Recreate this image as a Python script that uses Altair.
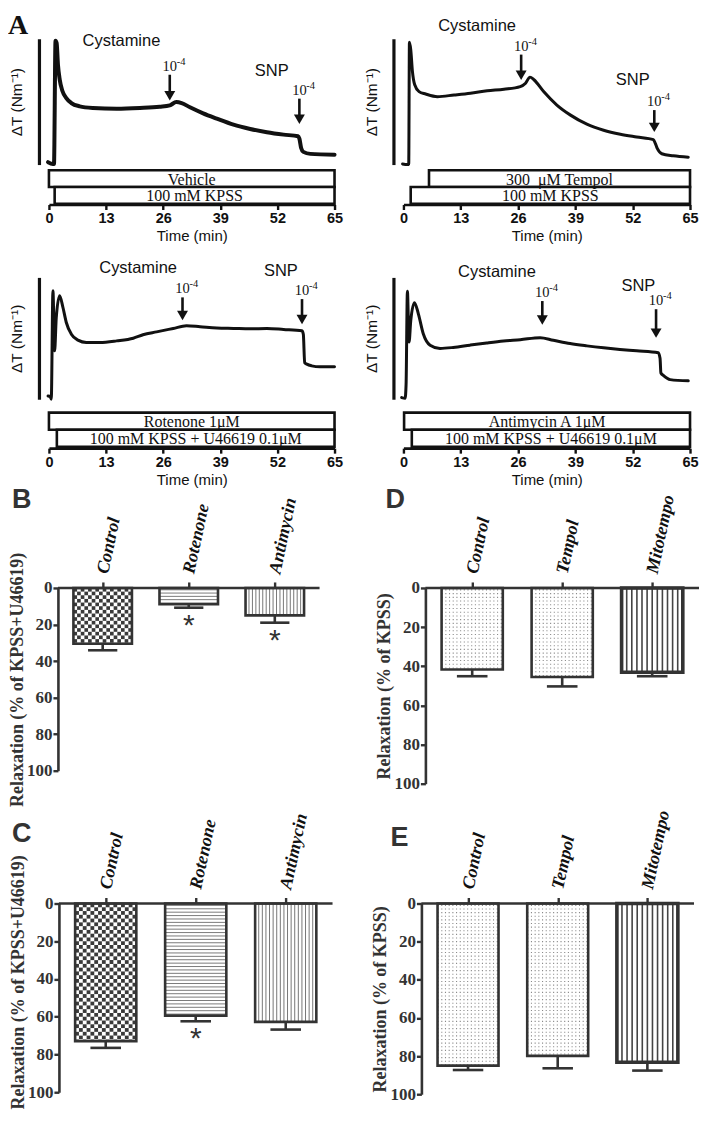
import altair as alt
import numpy as np
import pandas as pd

SANS = "Liberation Sans"
SERIF = "Liberation Serif"
INK = "#111111"
GREY = "#333333"

# ---------------- Panel A : tension traces ----------------
TIME_TICKS = [0, 13, 26, 39, 52, 65]

A1_T = [-0.2, 0.9, 1.15, 1.5, 1.75, 2.05, 2.45, 3.05, 3.95, 5.1, 7.0, 10.0, 15.4, 20.7, 25.2, 27.5, 29.0,
        30.2, 32.1, 35.1, 38.2, 42.0, 45.8, 49.6, 53.4, 56.7, 57.0, 57.4, 57.9, 59.5, 65.0]
A1_V = [1.9, 0.5, 0.5, 98.4, 96.6, 79.4, 67.5, 58.7, 52.9, 48.9, 46.3, 45.0, 44.4, 45.0, 46.0, 47.1, 49.7,
        48.9, 45.5, 40.7, 36.5, 31.7, 28.3, 25.7, 23.8, 22.5, 20.6, 13.2, 10.1, 8.5, 7.9]
A1_ARROW_T = [27.5, 57.0]
A1_ARROW_TOP = [71.4, 52.4]
A1_ARROW_TIP = [51.0, 32.3]
A1_WORDS = ["Cystamine", "SNP"]
A1_WORD_T = [16.5, 50.7]
A1_WORD_V = [97.9, 74.0]
A1_BOX_LABELS = ["Vehicle", "100 mM KPSS"]
A1_BOX_START = [0.0, 1.3]
A1_BOX_END = [65.0, 65.0]

A2_T = [-0.2, 0.9, 1.2, 1.36, 1.66, 2.04, 2.56, 3.54, 5.05, 7.7, 11.5, 15.2, 19.0, 22.8, 26.5, 27.7, 28.7,
        29.6, 31.8, 34.8, 37.9, 41.6, 45.4, 49.2, 52.9, 56.7, 57.1, 57.6, 58.6, 61.2, 64.6]
A2_V = [0.5, 0.0, 0.0, 97.3, 91.4, 74.1, 63.4, 58.0, 56.1, 54.0, 55.3, 56.7, 58.6, 59.9, 62.0, 64.7, 69.5,
        67.4, 58.0, 47.3, 39.3, 32.1, 27.3, 24.1, 21.9, 19.8, 17.1, 12.6, 8.6, 7.0, 5.9]
A2_ARROW_T = [26.7, 56.9]
A2_ARROW_TOP = [87.4, 43.3]
A2_ARROW_TIP = [67.4, 25.9]
A2_WORDS = ["Cystamine", "SNP"]
A2_WORD_T = [16.7, 52.0]
A2_WORD_V = [110.0, 67.4]
A2_BOX_LABELS = ["300\u00a0 \u03bcM Tempol", "100 mM KPSS"]
A2_BOX_START = [5.8, 1.65]
A2_BOX_END = [65.0, 65.0]

A3_T = [-0.2, 0.3, 0.53, 0.91, 1.29, 1.67, 2.43, 3.19, 3.95, 5.1, 6.6, 8.5, 11.6, 15.4, 19.2, 21.4, 24.5,
        28.3, 31.3, 34.4, 38.2, 42.0, 45.8, 49.6, 53.4, 57.6, 57.9, 58.2, 58.7, 59.8, 61.7, 65.0]
A3_V = [2.7, 2.2, 0.0, 89.0, 39.7, 67.1, 84.9, 75.3, 63.0, 53.4, 48.5, 46.6, 46.6, 47.9, 50.1, 52.9, 55.3,
        58.1, 60.3, 59.5, 58.4, 58.1, 57.8, 58.1, 57.3, 56.2, 53.4, 30.1, 28.8, 27.4, 26.6, 26.6]
A3_ARROW_T = [30.4, 57.6]
A3_ARROW_TOP = [83.6, 82.2]
A3_ARROW_TIP = [64.9, 61.6]
A3_WORDS = ["Cystamine", "SNP"]
A3_WORD_T = [20.3, 52.8]
A3_WORD_V = [108.0, 105.5]
A3_BOX_LABELS = ["Rotenone 1\u03bcM", "100 mM KPSS + U46619 0.1\u03bcM"]
A3_BOX_START = [0.0, 1.8]
A3_BOX_END = [65.0, 65.0]

A4_T = [-0.4, 0.38, 0.6, 0.9, 1.28, 1.66, 2.5, 3.4, 4.5, 6.05, 8.3, 11.3, 15.1, 18.9, 22.7, 26.5, 31.0,
        34.0, 37.8, 41.6, 45.4, 49.1, 52.9, 57.8, 58.2, 58.4, 59.0, 60.5, 64.6]
A4_V = [1.3, 0.8, 12.0, 88.7, 47.0, 64.5, 79.3, 69.9, 53.8, 44.4, 41.7, 42.5, 44.4, 46.2, 47.8, 48.9, 50.5,
        48.4, 45.7, 43.8, 42.2, 40.9, 39.8, 38.2, 33.6, 21.5, 19.4, 16.1, 15.1]
A4_ARROW_T = [31.5, 57.3]
A4_ARROW_TOP = [80.6, 73.9]
A4_ARROW_TIP = [61.3, 50.5]
A4_WORDS = ["Cystamine", "SNP"]
A4_WORD_T = [21.2, 53.3]
A4_WORD_V = [104.8, 92.7]
A4_BOX_LABELS = ["Antimycin A 1\u03bcM", "100 mM KPSS + U46619 0.1\u03bcM"]
A4_BOX_START = [0.15, 1.9]
A4_BOX_END = [65.0, 65.0]

# ---------------- Panels B-E : relaxation bars ----------------
BC_CATS = ["Control", "Rotenone", "Antimycin"]
B_MEAN = [30.5, 8.9, 15.0]
B_SEM = [3.6, 1.9, 4.0]
B_SIG = [False, True, True]
C_MEAN = [73.0, 59.4, 62.7]
C_SEM = [3.5, 3.0, 4.1]
C_SIG = [False, True, False]

DE_CATS = ["Control", "Tempol", "Mitotempo"]
D_MEAN = [41.7, 45.5, 43.1]
D_SEM = [3.4, 4.8, 2.0]
D_SIG = [False, False, False]
E_MEAN = [85.0, 79.9, 83.2]
E_SEM = [2.3, 6.5, 4.4]
E_SIG = [False, False, False]

Y_TICKS = [0, 20, 40, 60, 80, 100]

XS = alt.Scale(domain=[0, 65], nice=False, zero=False)
VS = alt.Scale(domain=[0, 100], nice=False, zero=False)


def trace_chart(t, v, at, atop, atip, words, wt, wv, width, height, lw, letter=None):
    yaxis = alt.Axis(title="\u0394T (Nm\u207b\u00b9)", labels=False, ticks=False, grid=False,
                     domain=True, domainColor=INK, domainWidth=3.2, offset=10, titleFont=SANS,
                     titleFontSize=15.5, titleFontWeight="normal", titleColor=INK, titlePadding=14)

    def X(f):
        return alt.X(f, scale=XS, axis=None)

    def Y(f):
        return alt.Y(f, scale=VS, axis=yaxis)

    tr = pd.DataFrame({"t": t, "v": v})
    line = alt.Chart(tr).mark_line(color=INK, strokeWidth=lw, interpolate="monotone",
                                   strokeJoin="round", strokeCap="round").encode(
        x=X("t:Q"), y=Y("v:Q"))
    ar = pd.DataFrame({"t": at, "top": atop, "tip": atip})
    shaft = alt.Chart(ar).mark_rule(color=INK, strokeWidth=2.6, y2Offset=-5).encode(
        x=X("t:Q"), y=Y("top:Q"), y2="tip:Q")
    head = alt.Chart(ar).mark_point(shape="triangle-down", filled=True, color=INK, opacity=1,
                                    size=120, yOffset=-4.6).encode(x=X("t:Q"), y=Y("tip:Q"))
    ten = alt.Chart(ar).mark_text(text="10", font=SERIF, fontSize=14.5, color=INK, align="center",
                                  baseline="alphabetic", dy=-4).encode(x=X("t:Q"), y=Y("top:Q"))
    sup = alt.Chart(ar).mark_text(text="-4", font=SERIF, fontSize=10.5, color=INK, align="left",
                                  baseline="alphabetic", dx=7, dy=-10).encode(x=X("t:Q"), y=Y("top:Q"))
    wd = pd.DataFrame({"w": words, "t": wt, "v": wv})
    wtxt = alt.Chart(wd).mark_text(font=SANS, fontSize=16.5, color=INK, align="center",
                                   baseline="middle").encode(x=X("t:Q"), y=Y("v:Q"), text="w:N")
    layers = [line, shaft, head, ten, sup, wtxt]
    if letter:
        lt = alt.Chart(pd.DataFrame({"l": [letter]})).mark_text(
            font=SERIF, fontSize=28, fontWeight="bold", color=INK, align="left",
            baseline="alphabetic").encode(text="l:N", x=alt.value(-41), y=alt.value(-4.5))
        layers.append(lt)
    return alt.layer(*layers).properties(width=width, height=height)


def box_chart(labels, start, end, width, height, fs, pad_outer):
    df = pd.DataFrame({"label": labels, "start": start, "end": end})
    df["row"] = np.arange(len(df))
    df["mid"] = (df["start"] + df["end"]) / 2
    ys = alt.Scale(type="band", paddingInner=0, paddingOuter=pad_outer)
    taxis = alt.Axis(values=TIME_TICKS, title="Time (min)", grid=False, domainColor=INK,
                     domainWidth=2.6, tickColor=INK, tickWidth=2.4, tickSize=5, labelPadding=2,
                     labelFont=SANS, labelFontSize=14.5, labelFontWeight="bold", labelColor=INK,
                     labelFlush=False, labelOverlap=False, titleFont=SANS, titleFontSize=15,
                     titleFontWeight="normal", titleColor=INK, titlePadding=4)
    rect = alt.Chart(df).mark_rect(fill="white", stroke=INK, strokeWidth=2.6).encode(
        x=alt.X("start:Q", scale=XS, axis=taxis), x2="end:Q",
        y=alt.Y("row:O", scale=ys, axis=None))
    txt = alt.Chart(df).mark_text(font=SERIF, fontSize=fs, color=INK, baseline="middle", dy=1).encode(
        x=alt.X("mid:Q", scale=XS, axis=taxis), y=alt.Y("row:O", scale=ys, axis=None), text="label:N")
    return alt.layer(rect, txt).properties(width=width, height=height)


HW = 0.34
CAP = 0.17
LO, HI = -0.52, 2.52


def bar_chart(cats, mean, sem, sig, kinds, outline_w, width, shift, height, ytitle, title_fs,
              title_lift, letter, lx, ly):
    """shift = pixels between the cell's left edge and the drawn y axis."""
    n = len(cats)
    df = pd.DataFrame({"i": np.arange(n, dtype=float), "m": mean, "s": sem, "sig": sig,
                       "sw": outline_w})
    df["e"] = df["m"] + df["s"]
    df["l"] = df["i"] - HW
    df["r"] = df["i"] + HW
    df["cl"] = df["i"] - CAP
    df["cr"] = df["i"] + CAP
    df["z"] = 0.0
    step = (width - shift) / (HI - LO)
    lo = LO - shift / step
    xs = alt.Scale(domain=[lo, HI], nice=False, zero=False)
    ys = alt.Scale(domain=[0, 100], reverse=True, nice=False, zero=False)
    lab = "[" + ",".join("'%s'" % c for c in cats) + "][datum.value]"
    xaxis = alt.Axis(orient="top", values=list(range(n)), labelExpr=lab, title=None, grid=False,
                     domain=False, tickColor=GREY, tickWidth=2.4, tickSize=6,
                     labelAngle=282, labelAlign="left", labelBaseline="middle", labelPadding=9,
                     labelFont=SERIF, labelFontSize=18, labelFontWeight="bold",
                     labelFontStyle="italic", labelColor=INK, labelFlush=False,
                     labelOverlap=False, labelBound=False)
    yaxis = alt.Axis(values=Y_TICKS, title=ytitle, grid=False, domainColor=GREY, domainWidth=2.6,
                     tickColor=GREY, tickWidth=2.4, tickSize=5, labelPadding=1, labelFont=SERIF,
                     labelFontSize=17, labelFontWeight="bold", labelColor=GREY, labelFlush=False,
                     titleFont=SERIF, titleFontSize=title_fs, titleFontWeight="bold",
                     titleColor=GREY, titlePadding=0, offset=-shift,
                     titleY=height / 2 - title_lift)

    rects, hl, vl, dots = [], [], [], []
    for i, (m, kind) in enumerate(zip(mean, kinds)):
        l, r = i - HW, i + HW
        if kind == "checker":
            nx, cell = 16, 2.0
            dx = (r - l) / nx
            ny = int(np.ceil(m / cell))
            for a in range(nx):
                for b in range(ny):
                    if (a + b) % 2 == 0:
                        rects.append({"x": l + a * dx, "x2": l + (a + 1) * dx,
                                      "y": b * cell, "y2": min((b + 1) * cell, m)})
        elif kind == "hlines":
            for yy in np.arange(1.0, m, 1.8):
                hl.append({"x": l, "x2": r, "y": yy})
        elif kind in ("vlines", "vbold"):
            nx = 17 if kind == "vlines" else 12
            col = "#777777" if kind == "vlines" else "#444444"
            w = 1.0 if kind == "vlines" else 1.6
            for k in range(1, nx):
                vl.append({"x": l + k * (r - l) / nx, "y": 0.0, "y2": m, "c": col, "w": w})
        elif kind == "dots":
            for yy in np.arange(1.0, m, 1.9):
                dots.append({"x": l, "x2": r, "y": yy})

    def X(f):
        return alt.X(f, scale=xs, axis=xaxis)

    def Y(f):
        return alt.Y(f, scale=ys, axis=yaxis)

    layers = []
    layers.append(alt.Chart(df).mark_rect(fill="white").encode(
        x=X("l:Q"), x2="r:Q", y=Y("z:Q"), y2="m:Q"))
    if rects:
        layers.append(alt.Chart(pd.DataFrame(rects)).mark_rect(color="#3a3a3a").encode(
            x=X("x:Q"), x2="x2:Q", y=Y("y:Q"), y2="y2:Q"))
    if hl:
        layers.append(alt.Chart(pd.DataFrame(hl)).mark_rule(color="#7a7a7a", strokeWidth=1).encode(
            x=X("x:Q"), x2="x2:Q", y=Y("y:Q")))
    if vl:
        layers.append(alt.Chart(pd.DataFrame(vl)).mark_rule().encode(
            x=X("x:Q"), y=Y("y:Q"), y2="y2:Q",
            color=alt.Color("c:N", scale=None), strokeWidth=alt.StrokeWidth("w:Q", scale=None)))
    if dots:
        layers.append(alt.Chart(pd.DataFrame(dots)).mark_rule(
            color="#8a8a8a", strokeWidth=1.1, strokeDash=[1.1, 2.6]).encode(
            x=X("x:Q"), x2="x2:Q", y=Y("y:Q")))
    layers.append(alt.Chart(df).mark_rect(fillOpacity=0, stroke=GREY).encode(
        x=X("l:Q"), x2="r:Q", y=Y("z:Q"), y2="m:Q",
        strokeWidth=alt.StrokeWidth("sw:Q", scale=None)))
    layers.append(alt.Chart(df).mark_rule(color=GREY, strokeWidth=2.6).encode(
        x=X("i:Q"), y=Y("m:Q"), y2="e:Q"))
    layers.append(alt.Chart(df).mark_rule(color=GREY, strokeWidth=2.6).encode(
        x=X("cl:Q"), x2="cr:Q", y=Y("e:Q")))
    # category-axis line, from the drawn y axis to the right end
    layers.append(alt.Chart(pd.DataFrame({"a": [LO], "b": [HI], "z": [0.0]})).mark_rule(
        color=GREY, strokeWidth=2.6).encode(x=X("a:Q"), x2="b:Q", y=Y("z:Q")))
    if any(sig):
        layers.append(alt.Chart(df).transform_filter("datum.sig").mark_text(
            text="*", font=SANS, fontSize=30, color=GREY, align="center", baseline="top",
            dy=3).encode(x=X("i:Q"), y=Y("e:Q")))
    layers.append(alt.Chart(pd.DataFrame({"l": [letter]})).mark_text(
        font=SANS, fontSize=27, fontWeight="bold", color=GREY, align="left",
        baseline="alphabetic").encode(text="l:N", x=alt.value(lx), y=alt.value(ly)))
    return alt.layer(*layers).properties(width=width, height=height)


_sp = [0]


def spacer(w, h):
    _sp[0] += 1
    f = "s%d" % _sp[0]
    return alt.Chart(pd.DataFrame({f: [0]})).mark_point(opacity=0).encode(
        x=alt.X(f + ":Q", axis=None), y=alt.Y(f + ":Q", axis=None)
    ).properties(width=w, height=h)


W1, W2 = 286, 287
tA1 = trace_chart(A1_T, A1_V, A1_ARROW_T, A1_ARROW_TOP, A1_ARROW_TIP, A1_WORDS, A1_WORD_T,
                  A1_WORD_V, W1, 126, 4.0, letter="A")
tA2 = trace_chart(A2_T, A2_V, A2_ARROW_T, A2_ARROW_TOP, A2_ARROW_TIP, A2_WORDS, A2_WORD_T,
                  A2_WORD_V, W2, 126, 3.0)
bA1 = box_chart(A1_BOX_LABELS, A1_BOX_START, A1_BOX_END, W1, 35, 16, 0.04)
bA2 = box_chart(A2_BOX_LABELS, A2_BOX_START, A2_BOX_END, W2, 35, 16, 0.04)
tA3 = trace_chart(A3_T, A3_V, A3_ARROW_T, A3_ARROW_TOP, A3_ARROW_TIP, A3_WORDS, A3_WORD_T,
                  A3_WORD_V, W1, 122, 3.0)
tA4 = trace_chart(A4_T, A4_V, A4_ARROW_T, A4_ARROW_TOP, A4_ARROW_TIP, A4_WORDS, A4_WORD_T,
                  A4_WORD_V, W2, 122, 3.0)
bA3 = box_chart(A3_BOX_LABELS, A3_BOX_START, A3_BOX_END, W1, 37, 16, 0.08)
bA4 = box_chart(A4_BOX_LABELS, A4_BOX_START, A4_BOX_END, W2, 37, 16, 0.08)

ytitle_bc = "Relaxation (% of KPSS+U46619)"
ytitle_de = "Relaxation (% of KPSS)"
pB = bar_chart(BC_CATS, B_MEAN, B_SEM, B_SIG, ["checker", "hlines", "vlines"], [2.6, 2.6, 2.6],
               271, 9, 183, ytitle_bc, 18, 0, "B", -37, -80)
pD = bar_chart(DE_CATS, D_MEAN, D_SEM, D_SIG, ["dots", "dots", "vbold"], [2.6, 2.6, 3.6],
               296, 22, 196, ytitle_de, 18, 0, "D", -18, -80)
pC = bar_chart(BC_CATS, C_MEAN, C_SEM, C_SIG, ["checker", "hlines", "vlines"], [2.6, 2.6, 2.6],
               284, 10, 189, ytitle_bc, 18, 16, "C", -37, -62)
pE = bar_chart(DE_CATS, E_MEAN, E_SEM, E_SIG, ["dots", "dots", "vbold"], [2.6, 2.6, 3.6],
               291, 18, 191, ytitle_de, 18, 0, "E", -13, -58)

cells = [
    tA1, tA2,
    spacer(W1, 5), spacer(W2, 5),
    bA1, bA2,
    spacer(W1, 73), spacer(W2, 73),
    tA3, tA4,
    spacer(W1, 12), spacer(W2, 12),
    bA3, bA4,
    spacer(W1, 140), spacer(W2, 140),
    pB, pD,
    spacer(W1, 120), spacer(W2, 120),
    pC, pE,
]

chart = alt.ConcatChart(concat=cells, columns=2, spacing={"row": 0, "column": 69},
                        bounds="flush", align="each")
chart = chart.properties(padding={"top": 3, "left": 0, "right": 0, "bottom": 0}
                         ).configure_view(stroke=None)

chart.save("out.html", embed_options={"renderer": "svg", "actions": False})
